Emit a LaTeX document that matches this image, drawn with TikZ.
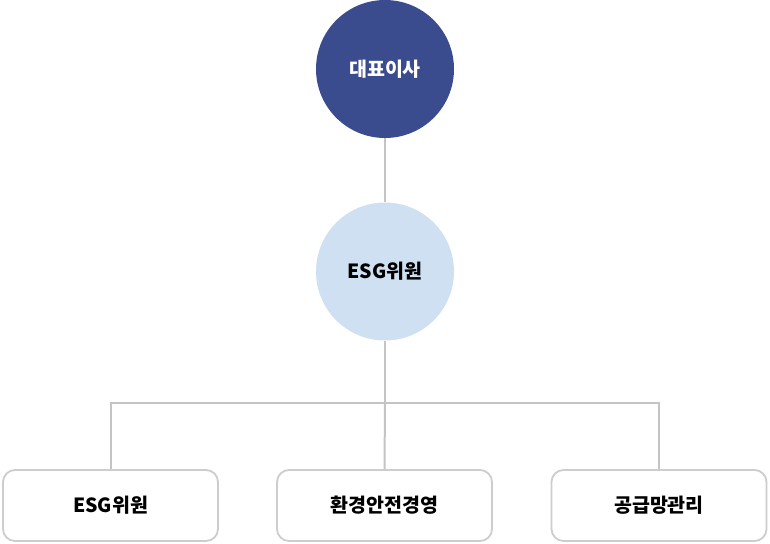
\documentclass[tikz,border=0pt]{standalone}
\usepackage{fontspec}
\newfontfamily\kr{Noto Sans CJK KR}
\definecolor{navy}{HTML}{3B4C8E}
\definecolor{lightblue}{HTML}{CFE0F2}
\definecolor{linegray}{HTML}{C4C4C4}
\definecolor{boxgray}{HTML}{CDCDCD}
\begin{document}
\begin{tikzpicture}[x=1pt,y=-1pt,
  circ/.style={circle,minimum size=138pt,inner sep=0pt,font=\kr\bfseries\fontsize{19.5}{22}\selectfont},
  unit/.style={draw=boxgray,line width=1.8pt,rounded corners=12pt,minimum width=215pt,minimum height=71pt,inner sep=0pt,font=\kr\bfseries\fontsize{19.5}{22}\selectfont,fill=white},
  conn/.style={draw=linegray,line width=2pt}]
\useasboundingbox (0,0) rectangle (770,543);
\node[circ,fill=navy,text=white] (ceo) at (385,69) {대표이사};
\node[circ,fill=lightblue,text=black] (esg) at (385,271.5) {ESG위원};
\coordinate (hub) at (385,403);
\draw[conn] (ceo) -- (esg);
\draw[conn] (esg) -- (hub);
\node[unit] (u1) at (110.5,505.5) {ESG위원};
\node[unit] (u2) at (384.5,505.5) {환경안전경영};
\node[unit] (u3) at (659,505.5) {공급망관리};
\draw[conn] (hub) -| (u1.north);
\draw[conn] (hub) -- (u2.north);
\draw[conn] (hub) -| (u3.north);
\end{tikzpicture}
\end{document}
